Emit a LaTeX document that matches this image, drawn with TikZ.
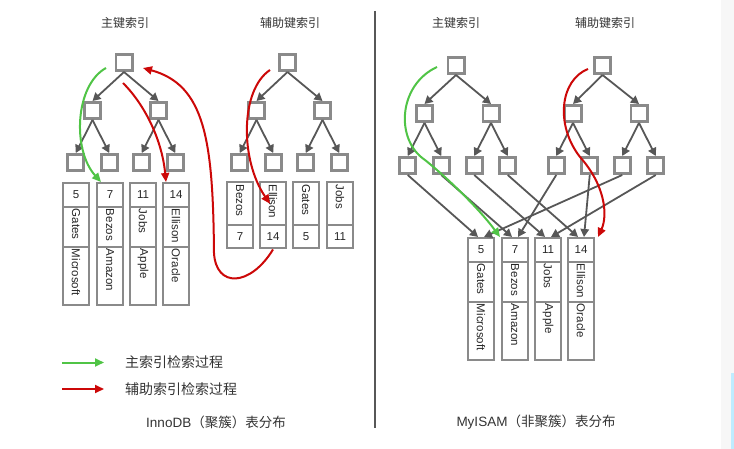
\documentclass[tikz,border=0pt]{standalone}
\usepackage{fontspec}
\setmainfont{Liberation Sans}
\newfontfamily\cjk{Noto Sans CJK SC}
\usetikzlibrary{arrows.meta}
\definecolor{bgray}{RGB}{138,138,138}
\definecolor{agray}{RGB}{87,87,87}
\definecolor{ired}{RGB}{204,8,8}
\definecolor{igreen}{RGB}{80,196,70}
\tikzset{
  kbox/.style={draw=bgray, line width=2.8pt, fill=white, minimum size=16.2pt, inner sep=0pt},
  tarrow/.style={draw=agray, line width=1.8pt, -{Triangle[length=8pt,width=8.5pt]}},
  cell/.style={draw=bgray, line width=2pt, inner sep=2pt, text=black!85, font=\fontsize{11.5}{13}\selectfont},
  vcell/.style={cell, rotate=-90, align=left},
  rcurve/.style={draw=ired, line width=2pt, -{Triangle[length=9pt,width=8pt]}},
  gcurve/.style={draw=igreen, line width=2pt, -{Triangle[length=9pt,width=8pt]}},
  title/.style={text=black!80, font=\cjk\fontsize{12}{14}\selectfont},
  legend/.style={anchor=west, inner sep=0pt, text=black!80, font=\cjk\fontsize{14}{16}\selectfont}
}

\begin{document}
\begin{tikzpicture}[x=1pt,y=-1pt]
	\useasboundingbox (0,0) rectangle (734,449);
	\fill (721,0) rectangle (734,449) [black!3];
	\fill (731,373) rectangle (734,449) [blue!30!cyan!25];
	% titles
	\node[title] (ipt) at (125,23) {主键索引};
	\node[title] (ist) at (290,23) {辅助键索引};
	\node[title] (mpt) at (456,23) {主键索引};
	\node[title] (mst) at (605,23) {辅助键索引};
	% index trees
	\foreach \tn/\rt/\ax/\bx/\y in {ip/124/92.5/158.5/62.5, is/287.5/256.5/322.5/62.5, mp/456/424.5/491/65.5, ms/602.5/573/639/65.5}{
		\node[kbox] (\tn0) at (\rt,\y) {};
		\node[kbox] (\tn1) at ({\ax},{\y+48}) {};
		\node[kbox] (\tn2) at ({\bx},{\y+48}) {};
		\node[kbox] (\tn3) at ({\ax-16.75},{\y+100}) {};
		\node[kbox] (\tn4) at ({\ax+16.75},{\y+100}) {};
		\node[kbox] (\tn5) at ({\bx-16.75},{\y+100}) {};
		\node[kbox] (\tn6) at ({\bx+16.75},{\y+100}) {};
		\foreach \pa/\ch in {0/1,0/2,1/3,1/4,2/5,2/6}
			\draw[tarrow] (\tn\pa.south) -- (\tn\ch.north);
	}
	% data rows
	\foreach \tb/\dx/\y in {i/0/183, m/405/238}{
		\foreach \i/\x/\k/\nm/\co in {1/76/5/Gates/Microsoft, 2/110/7/Bezos/Amazon, 3/143/11/Jobs/Apple, 4/176/14/Ellison/Oracle}{
			\node[cell, minimum width=26pt, minimum height=24pt] (\tb k\i) at ({\x+\dx},{\y+12}) {\k};
			\node[vcell, text width=36pt, minimum height=26pt] (\tb n\i) at ({\x+\dx},{\y+44}) {\nm};
			\node[vcell, text width=54pt, minimum height=26pt] (\tb c\i) at ({\x+\dx},{\y+93}) {\co};
		}
	}
	% secondary rows (InnoDB)
	\foreach \i/\x/\nm/\k in {1/240/Bezos/7, 2/273/Ellison/14, 3/306/Gates/5, 4/340/Jobs/11}{
		\node[vcell, text width=38.5pt, minimum height=26pt] (sn\i) at (\x,203.75) {\nm};
		\node[cell, minimum width=26pt, minimum height=23.5pt] (sk\i) at (\x,236.75) {\k};
	}
	% MyISAM leaves point to rows
	\foreach \pa/\ch in {3/1,4/2,5/3,6/4}
		\draw[tarrow] (mp\pa.south) -- ([xshift=-3pt]mk\ch.north);
	\foreach \pa/\ch in {3/2,4/4,5/1,6/3}
		\draw[tarrow] (ms\pa.south) -- ([xshift=3pt]mk\ch.north);
	% search paths
	\coordinate (igs) at (106,68);
	\coordinate (irs) at (123,83);
	\coordinate (isrs) at (270,70);
	\coordinate (ipin) at (143,68);
	\coordinate (mgs) at (437,67);
	\coordinate (mrs) at (588,69);
	\draw[gcurve] (igs) .. controls (75,85) and (72,150) .. ([xshift=-9pt]ik2.north);
	\draw[rcurve] (irs) .. controls (145,105) and (162,140) .. ([xshift=-10pt]ik4.north);
	\draw[rcurve] (isrs) .. controls (240,90) and (240,160) .. ([xshift=-3pt]sn2.center);
	\draw[rcurve] (sk2.south) .. controls (250,287) and (216,288) .. (214,253) .. controls (213,140) and (205,85) .. (ipin);
	\draw[gcurve] (mgs) .. controls (398,85) and (395,140) .. (425,160) .. controls (450,180) and (480,210) .. ([xshift=5pt]mk1.north east);
	\draw[rcurve] (mrs) .. controls (560,80) and (555,125) .. (580,157) .. controls (605,185) and (608,215) .. ([xshift=3pt]mk4.north east);
	% legend
	\node[legend] (lgg) at (125,362.5) {主索引检索过程};
	\node[legend] (lgr) at (125,389) {辅助索引检索过程};
	\draw[gcurve] ([xshift=-63pt]lgg.west) -- ([xshift=-21pt]lgg.west);
	\draw[rcurve] ([xshift=-63pt]lgr.west) -- ([xshift=-21pt]lgr.west);
	% divider and captions
	\draw (375,11) -- (375,428) [agray, line width=2.5pt];
	\node[text=black!80, font=\fontsize{13.5}{16}\selectfont] (icap) at (216,422) {InnoDB{\cjk（聚簇）表分布}};
	\node[text=black!80, font=\fontsize{13.5}{16}\selectfont] (mcap) at (536,422) {MyISAM{\cjk（非聚簇）表分布}};
\end{tikzpicture}
\end{document}
